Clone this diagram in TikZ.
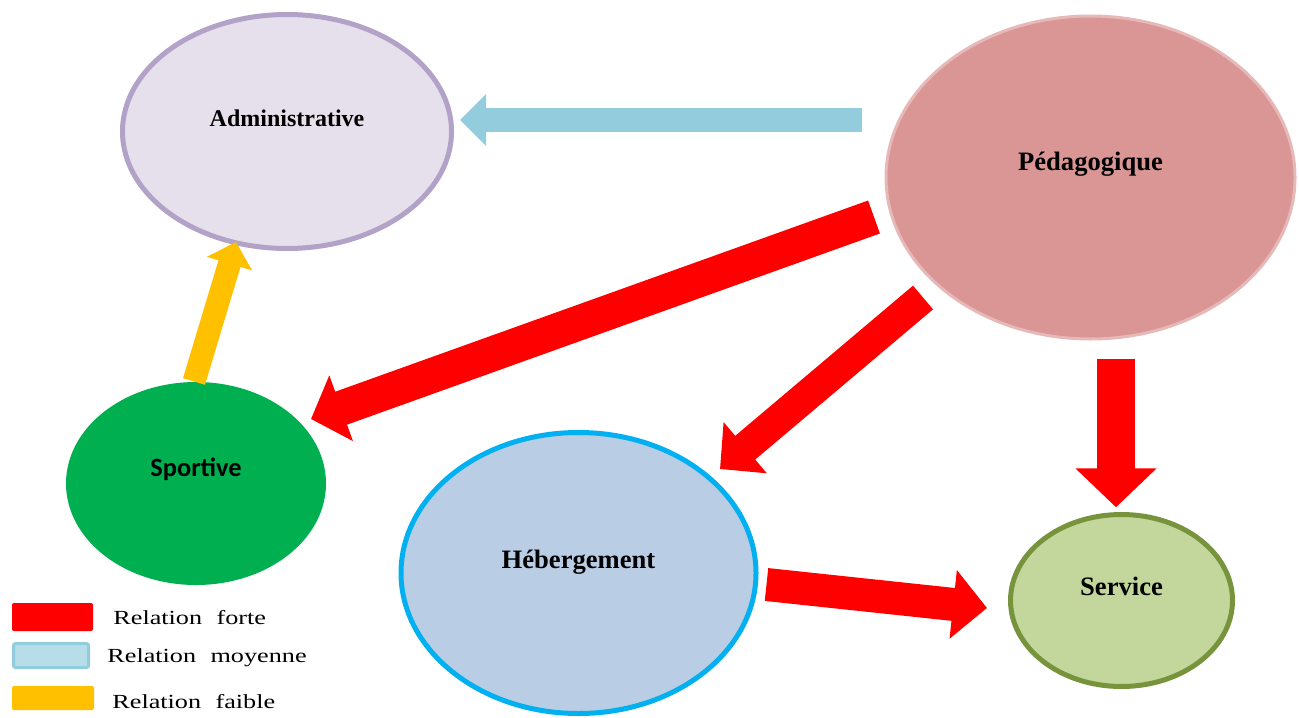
\documentclass[tikz,border=0pt]{standalone}
\usepackage{fontspec}
\setmainfont{Liberation Serif}
\newfontfamily\calibri{Carlito}
\usetikzlibrary{shapes.geometric,arrows.meta}
\definecolor{adminfond}{HTML}{E6E0EC}
\definecolor{adminbord}{HTML}{B3A2C7}
\definecolor{pedafond}{HTML}{D99694}
\definecolor{pedabord}{HTML}{E6B9B8}
\definecolor{sportfond}{HTML}{00B050}
\definecolor{hebfond}{HTML}{B9CDE5}
\definecolor{hebbord}{HTML}{00B0F0}
\definecolor{servfond}{HTML}{C3D69B}
\definecolor{servbord}{HTML}{77933C}
\definecolor{rouge}{HTML}{FF0000}
\definecolor{bleu}{HTML}{93CDDD}
\definecolor{bleuclair}{HTML}{B7DEE8}
\definecolor{jaune}{HTML}{FFC000}

\begin{document}
\begin{tikzpicture}[x=0.5pt,y=-0.5pt,
    bulle/.style={ellipse,inner sep=0pt},
    titre/.style={font=\bfseries\fontsize{13.3}{16}\selectfont},
    fleche/.style n args={4}{draw=#1,line width=#2,-{Triangle[length=#3,width=#4]}},
    legbox/.style={rectangle,inner sep=0pt,rounded corners=1pt},
    legtext/.style={anchor=base west,inner sep=0pt,font=\fontsize{10}{12}\selectfont}]
  \useasboundingbox (0,0) rectangle (1299,717);
  \node[bulle,fill=adminfond,draw=adminbord,line width=2.5pt,minimum width=164.5pt,minimum height=117pt,
        label={[titre,font=\bfseries\fontsize{12}{14}\selectfont,yshift=6.75pt]center:Administrative}] (admin) at (287,131.5) {};
  \node[bulle,fill=pedafond,draw=pedabord,line width=1.5pt,minimum width=204.5pt,minimum height=161.5pt,
        label={[titre,yshift=6.5pt]center:Pédagogique}] (peda) at (1090.5,177.5) {};
  \node[bulle,fill=sportfond,minimum width=130pt,minimum height=101.5pt,
        label={[font=\calibri\bfseries\fontsize{13.2}{16}\selectfont,yshift=7pt]center:Sportive}] (sport) at (196,483.5) {};
  \node[bulle,fill=hebfond,draw=hebbord,line width=2.5pt,minimum width=177.5pt,minimum height=140.5pt,
        label={[titre,yshift=5.5pt]center:Hébergement}] (heb) at (578.5,573) {};
  \node[bulle,fill=servfond,draw=servbord,line width=2.5pt,minimum width=111pt,minimum height=86pt,
        label={[titre,yshift=7pt]center:Service}] (serv) at (1121.5,600.5) {};

  \coordinate (pedaA) at (862,120);    \coordinate (adminA) at (460,120);
  \coordinate (pedaS) at (874,217);    \coordinate (sportP) at (311,419);
  \coordinate (pedaH) at (923,297.5);  \coordinate (hebP) at (720,469);
  \coordinate (pedaV) at (1116,358.7); \coordinate (servP) at (1116,507.3);
  \coordinate (hebS) at (766.5,584.5); \coordinate (servH) at (987,608);
  \coordinate (sportA) at (194,381.5); \coordinate (adminS) at (236,242);

  \draw[fleche={bleu}{12.3pt}{13pt}{25pt}] (pedaA) -- (adminA);
  \draw[fleche={rouge}{17.5pt}{16pt}{34pt}] (pedaS) -- (sportP);
  \draw[fleche={rouge}{15.5pt}{16.5pt}{32.5pt}] (pedaH) -- (hebP);
  \draw[fleche={rouge}{19pt}{19.5pt}{39.5pt}] (pedaV) -- (servP);
  \draw[fleche={rouge}{16.5pt}{17pt}{33.5pt}] (hebS) -- (servH);
  \draw[fleche={jaune}{11.5pt}{11.3pt}{23pt}] (sportA) -- (adminS);

  \node[legbox,fill=rouge,minimum width=40.5pt,minimum height=14pt] (legF) at (52.5,617) {};
  \node[legbox,fill=bleuclair,draw=bleu,line width=1.5pt,minimum width=37.5pt,minimum height=12pt] (legM) at (51,655.5) {};
  \node[legbox,fill=jaune,minimum width=41pt,minimum height=12pt] (legB) at (53,698) {};
  \node[legtext] (txtF) at (113,624) {\scalebox{1.31}[1]{Relation\hspace{5.5pt}forte}};
  \node[legtext] (txtM) at (107,662) {\scalebox{1.31}[1]{Relation\hspace{5.5pt}moyenne}};
  \node[legtext] (txtB) at (112,708) {\scalebox{1.31}[1]{Relation\hspace{5.5pt}faible}};
\end{tikzpicture}
\end{document}
